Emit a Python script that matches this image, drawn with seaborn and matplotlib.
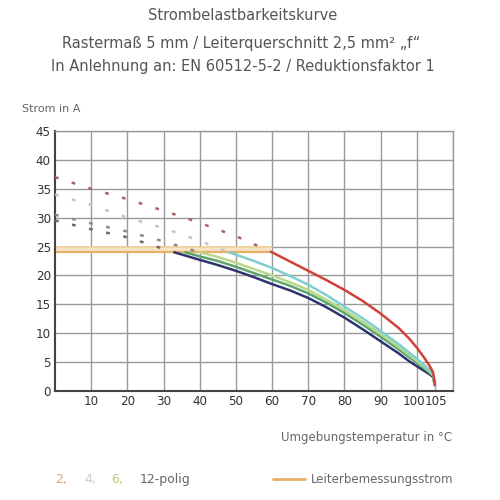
import numpy as np
import pandas as pd
import matplotlib
matplotlib.use("Agg")
import matplotlib.pyplot as plt
import seaborn as sns

# solid curves (Umgebungstemperatur in °C, Strom in A)
t_2pol = [60, 65, 70, 75, 80, 85, 90, 95, 98, 100, 102, 103.5, 104.5, 105, 105]
i_2pol = [24, 22.4, 20.8, 19.2, 17.5, 15.6, 13.4, 10.9, 9.0, 7.5, 5.8, 4.4, 3.2, 2.2, 0]

t_4pol = [48, 50, 55, 60, 65, 70, 75, 80, 85, 90, 95, 98, 100, 102, 103.5, 104.5, 105, 105]
i_4pol = [24, 23.6, 22.5, 21.3, 19.9, 18.4, 16.6, 14.6, 12.6, 10.4, 8.1, 6.6, 5.6, 4.5, 3.6, 2.8, 2.0, 0]

t_6pol = [40, 45, 50, 55, 60, 65, 70, 75, 80, 85, 90, 95, 98, 100, 102, 103.5, 104.5, 105, 105]
i_6pol = [24, 23.2, 22.2, 21.1, 20.0, 18.8, 17.5, 15.8, 14.0, 12.0, 9.9, 7.6, 6.2, 5.2, 4.2, 3.4, 2.7, 1.9, 0]

t_8pol = [36, 40, 45, 50, 55, 60, 65, 70, 75, 80, 85, 90, 95, 98, 100, 102, 103.5, 104.5, 105, 105]
i_8pol = [24, 23.3, 22.5, 21.5, 20.4, 19.3, 18.2, 16.9, 15.3, 13.5, 11.5, 9.4, 7.2, 5.8, 4.9, 3.9, 3.2, 2.6, 1.9, 0]

t_12pol = [33, 40, 45, 50, 55, 60, 65, 70, 75, 80, 85, 90, 95, 98, 100, 102, 103.5, 104.5, 105, 105]
i_12pol = [24, 22.7, 21.8, 20.8, 19.7, 18.5, 17.4, 16.1, 14.5, 12.7, 10.7, 8.6, 6.5, 5.1, 4.3, 3.5, 2.9, 2.4, 1.8, 0]

# dashed extrapolations above the rated current
t_2pol_ext = [0, 10, 20, 30, 40, 50, 60]
i_2pol_ext = [37, 35, 33.2, 31.2, 29.1, 26.8, 24]
t_4pol_ext = [0, 10, 20, 30, 40, 48]
i_4pol_ext = [34, 32.2, 30.0, 28.2, 26.0, 24]
t_6pol_ext = [0, 10, 20, 30, 40]
i_6pol_ext = [30.5, 29.0, 27.6, 25.9, 24]
t_12pol_ext = [0, 10, 20, 33]
i_12pol_ext = [29.5, 28.0, 26.6, 24]

# Leiterbemessungsstrom
t_rated = [0, 60]
i_rated = [24, 24]

x_ticks = [10, 20, 30, 40, 50, 60, 70, 80, 90, 100, 105]
y_ticks = [0, 5, 10, 15, 20, 25, 30, 35, 40, 45]

sns.set_theme(style="white")
plt.rcParams['font.family'] = ['DejaVu Sans']

fig = plt.figure(figsize=(5, 5), dpi=100)
ax = fig.add_axes([0.11, 0.218, 0.796, 0.52])

# grid
for x in range(10, 111, 10):
    ax.axvline(x, color="#9a9a9a", lw=1.0, zorder=0)
for y in range(5, 46, 5):
    ax.axhline(y, color="#9a9a9a", lw=1.0, zorder=0)

# rated current band
ax.fill_between(t_rated, [24, 24], [25, 25], color="#f7e4c4", zorder=1, lw=0)
sns.lineplot(x=t_rated, y=[25, 25], ax=ax, color="#f1cf9a", lw=1.2, zorder=2)
sns.lineplot(x=t_rated, y=i_rated, ax=ax, color="#e6b066", lw=1.6, zorder=2)

dash = (0, (1.5, 5.5))
ext = [
    (t_2pol_ext, i_2pol_ext, "#a8665f"),
    (t_4pol_ext, i_4pol_ext, "#c0c4c6"),
    (t_6pol_ext, i_6pol_ext, "#8c8a86"),
    (t_12pol_ext, i_12pol_ext, "#6e6a6a"),
]
for t, i, c in ext:
    sns.lineplot(x=t, y=i, ax=ax, color=c, lw=1.8, linestyle=dash, sort=False, zorder=3)

curves = [
    (t_12pol, i_12pol, "#2e3470"),
    (t_8pol, i_8pol, "#5aa66c"),
    (t_6pol, i_6pol, "#b9d98a"),
    (t_4pol, i_4pol, "#7fcfd0"),
    (t_2pol, i_2pol, "#d2403a"),
]
for t, i, c in curves:
    df = pd.DataFrame({"T": t, "I": i})
    sns.lineplot(data=df, x="T", y="I", ax=ax, color=c, lw=1.8, sort=False, zorder=4)

tick_font = dict(fontsize=9.5, color="#333333", family=['DejaVu Sans'], stretch='condensed')
ax.set_xlim(0, 110)
ax.set_ylim(0, 45)
ax.set_xticks(x_ticks)
ax.set_yticks(y_ticks)
ax.set_xticklabels([str(v) for v in x_ticks], **tick_font)
ax.set_yticklabels([str(v) for v in y_ticks], **tick_font)
for lab in ax.get_xticklabels():
    if lab.get_text() == "100":
        lab.set_horizontalalignment("right")
        lab.set_x(101.8)
    if lab.get_text() == "105":
        lab.set_horizontalalignment("left")
ax.tick_params(axis="both", length=0, pad=3)
# shift 100/105 labels apart so they just touch like in the original
import matplotlib.transforms as mtrans
for lab in ax.get_xticklabels():
    if lab.get_text() == "100":
        lab.set_transform(lab.get_transform() + mtrans.ScaledTranslation(0.085, 0, fig.dpi_scale_trans))
    if lab.get_text() == "105":
        lab.set_transform(lab.get_transform() + mtrans.ScaledTranslation(-0.1, 0, fig.dpi_scale_trans))
ax.set_xlabel("")
ax.set_ylabel("")
for s in ["top", "right"]:
    ax.spines[s].set_color("#9a9a9a")
    ax.spines[s].set_linewidth(1.0)
for s in ["left", "bottom"]:
    ax.spines[s].set_color("#444444")
    ax.spines[s].set_linewidth(1.5)

# titles
tc = "#555555"
fig.text(0.486, 0.968, "Strombelastbarkeitskurve", ha="center", va="center", fontsize=10.5, color=tc)
fig.text(0.483, 0.913, "Rastermaß 5 mm / Leiterquerschnitt 2,5 mm² „f“", ha="center", va="center",
         fontsize=10.5, color=tc)
fig.text(0.485, 0.868, "In Anlehnung an: EN 60512-5-2 / Reduktionsfaktor 1", ha="center", va="center",
         fontsize=10.5, color=tc)
fig.text(0.044, 0.783, "Strom in A", ha="left", va="center", fontsize=8, color="#666666")
fig.text(0.905, 0.124, "Umgebungstemperatur in °C", ha="right", va="center", fontsize=8.5, color="#666666")

# legend row
fig.text(0.11, 0.04, "2,", ha="left", va="center", fontsize=9, color="#e8a080")
fig.text(0.168, 0.04, "4,", ha="left", va="center", fontsize=9, color="#c8ccd0")
fig.text(0.222, 0.04, "6,", ha="left", va="center", fontsize=9, color="#b6cf7a")
fig.text(0.28, 0.04, "12-polig", ha="left", va="center", fontsize=9, color="#666666")
fig.add_artist(plt.Line2D([0.545, 0.61], [0.042, 0.042], color="#e6b066", lw=2))
fig.text(0.622, 0.042, "Leiterbemessungsstrom", ha="left", va="center", fontsize=8.5, color="#666666")

fig.savefig("out.png", dpi=100, facecolor="white")
